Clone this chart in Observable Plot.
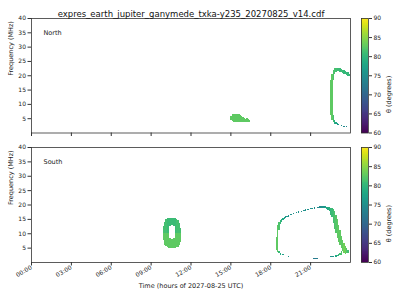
<!DOCTYPE html>
<html>
<head>
<meta charset="utf-8">
<script src="https://cdn.jsdelivr.net/npm/d3@7"></script>
<script src="https://cdn.jsdelivr.net/npm/@observablehq/plot@0.6"></script>
<style>
  body { margin: 0; background: #fff; }
  #wrap { position: relative; width: 400px; height: 300px; overflow: hidden; font-family: "DejaVu Sans", sans-serif; }
  #wrap svg { position: absolute; left: 0; top: 0; }
</style>
</head>
<body>
<div id="wrap"></div>
<script>
// ---------- data ----------
const titleText = "expres_earth_jupiter_ganymede_txka-y235_20270825_v14.cdf";
const xLabel = "Time (hours of 2027-08-25 UTC)";
const yLabel = "Frequency (MHz)";
const cLabel = "θ (degrees)";
const hourTicks = [0, 3, 6, 9, 12, 15, 18, 21];
const freqTicks = [5, 10, 15, 20, 25, 30, 35, 40];
const thetaTicks = [60, 65, 70, 75, 80, 85, 90];
const colWidth = 0.1; // hours per spectrogram column

// [hour, freq low (MHz), freq high (MHz), theta (deg)]
const northSpans = [
  // blob ~15:00
  [15.0, 4.4, 5.8, 82.5], [15.1, 4.0, 6.3, 82.5], [15.2, 3.8, 6.5, 82.5], [15.3, 3.7, 6.6, 82.5],
  [15.4, 3.7, 6.6, 82.5], [15.5, 3.7, 6.5, 82.5], [15.6, 3.7, 6.3, 82.5], [15.7, 3.7, 6.1, 82.5],
  [15.8, 3.8, 5.8, 82.5], [15.9, 3.8, 5.5, 82.5], [16.0, 3.8, 5.1, 82.5], [16.1, 3.6, 4.8, 82.5],
  [16.2, 3.5, 4.9, 82.5], [16.3, 3.6, 4.6, 82.5], [16.4, 3.8, 4.3, 82.5],
  // arc ~22:30-24:00
  [22.5, 6.0, 18.5, 82.5], [22.6, 4.5, 20.5, 82.5],
  [22.7, 3.5, 6.0, 81], [22.7, 18.5, 22.0, 81.5],
  [22.8, 3.0, 4.2, 79], [22.8, 20.5, 22.5, 81.5],
  [22.9, 2.8, 3.6, 77.5], [22.9, 21.2, 22.6, 81],
  [23.0, 2.6, 3.2, 76.5], [23.0, 21.5, 22.6, 80.5],
  [23.1, 2.5, 3.0, 75.5], [23.1, 21.4, 22.5, 80.5],
  [23.2, 21.2, 22.4, 80.5],
  [23.3, 2.2, 2.6, 75], [23.3, 21.0, 22.2, 80.5],
  [23.4, 20.8, 22.0, 80.5],
  [23.5, 2.0, 2.4, 74], [23.5, 20.6, 21.8, 80],
  [23.6, 20.3, 21.6, 80],
  [23.7, 1.9, 2.2, 74], [23.7, 20.0, 21.3, 80],
  [23.8, 19.8, 21.0, 80], [23.9, 19.6, 20.6, 80]
];

const southSpans = [
  // ring ~10:30
  [9.9, 7.5, 10, 82.5], [9.9, 10, 12.5, 81],
  [10.0, 6.0, 10, 82.5], [10.0, 10, 14.0, 81],
  [10.1, 5.4, 10, 82.5], [10.1, 10, 14.8, 81],
  [10.2, 5.1, 10, 82.5], [10.2, 10, 15.2, 80.5],
  [10.3, 5.0, 10, 82.5], [10.3, 10, 15.3, 80.5],
  [10.4, 5.0, 8.5, 82.5], [10.4, 12.5, 15.4, 80.5],
  [10.5, 5.0, 8.0, 82.5], [10.5, 13.0, 15.4, 80.5],
  [10.6, 5.0, 8.0, 82.5], [10.6, 13.0, 15.4, 80.5],
  [10.7, 5.0, 8.5, 82.5], [10.7, 12.5, 15.3, 80.5],
  [10.8, 5.0, 10, 82.5], [10.8, 10, 15.2, 80.5],
  [10.9, 5.1, 10, 82.5], [10.9, 10, 15.0, 81],
  [11.0, 5.3, 10, 82.5], [11.0, 10, 14.5, 81],
  [11.1, 5.8, 10, 82.5], [11.1, 10, 13.5, 81],
  [11.2, 7.0, 10, 82.5], [11.2, 10, 12.0, 81],
  // loop ~18:30-24:00, left side
  [18.4, 4.2, 8.8, 82.5],
  [18.5, 3.6, 13.0, 82.5],
  [18.6, 3.0, 3.8, 80], [18.6, 11.0, 14.0, 81.5],
  [18.7, 2.6, 3.2, 78.5], [18.7, 13.2, 14.6, 80],
  [18.8, 14.0, 15.0, 79],
  [18.9, 2.3, 2.7, 77], [18.9, 14.5, 15.4, 78],
  [19.0, 14.9, 15.7, 77],
  [19.1, 15.2, 15.9, 76],
  [19.2, 15.5, 16.1, 75.5],
  [19.3, 1.9, 2.2, 75.5], [19.3, 15.8, 16.3, 75.5],
  [19.5, 16.2, 16.7, 75],
  [19.7, 16.6, 17.1, 75],
  [19.9, 1.6, 1.9, 75], [19.9, 16.9, 17.4, 75],
  [20.0, 1.6, 1.9, 75],
  [20.1, 17.2, 17.7, 75],
  // top arc
  [20.3, 17.5, 17.9, 75], [20.5, 17.8, 18.2, 75], [20.6, 17.9, 18.3, 75],
  [20.8, 18.1, 18.5, 75], [21.0, 18.3, 18.7, 75], [21.1, 18.4, 18.8, 75],
  [21.3, 18.6, 19.0, 75], [21.5, 18.8, 19.2, 74], [21.6, 18.9, 19.3, 74],
  [21.7, 18.9, 19.4, 74.5], [21.8, 18.9, 19.4, 75], [21.9, 18.9, 19.4, 75.5],
  [22.0, 18.8, 19.4, 76], [22.1, 18.7, 19.4, 77], [22.2, 18.5, 19.3, 78],
  [22.3, 18.2, 19.2, 78.5], [22.4, 17.7, 19.0, 79], [22.5, 16.5, 18.8, 80],
  // bottom dashes
  [21.2, 1.1, 1.5, 72.5], [21.3, 1.1, 1.5, 72.5], [21.4, 1.1, 1.5, 72.5], [21.5, 1.1, 1.5, 72.5],
  [22.5, 1.6, 2.0, 75.5], [22.6, 1.6, 2.0, 75.5], [22.7, 1.7, 2.1, 76.5],
  // right side thick band
  [22.6, 15.5, 18.7, 80.5],
  [22.7, 13.5, 18.3, 81],
  [22.8, 11.5, 17.8, 81.5],
  [22.9, 10.0, 16.5, 82], [22.9, 1.8, 2.3, 78],
  [23.0, 8.5, 15.0, 82.5], [23.0, 2.0, 2.6, 79],
  [23.1, 7.0, 13.0, 82.5], [23.1, 2.2, 2.9, 80],
  [23.2, 5.8, 11.0, 82.5], [23.2, 2.4, 3.3, 81],
  [23.3, 4.8, 9.0, 82.5], [23.3, 2.6, 4.0, 81.5],
  [23.4, 3.8, 7.5, 82.5],
  [23.5, 3.0, 6.5, 83.5],
  [23.6, 2.9, 5.5, 83],
  [23.7, 3.0, 4.8, 82],
  [23.8, 3.3, 4.3, 81]
];

// ---------- drawing ----------
const wrap = document.getElementById("wrap");
const colorScale = {type: "linear", scheme: "viridis", domain: [60, 90]};
const fmtHour = d => String(d).padStart(2, "0") + ":00";
const axisColor = "#333";

function panel(spans, name, top, bottom, showX, withTitle) {
  const rows = spans.map(([t, lo, hi, theta]) => ({t, lo, hi, theta}));
  const marks = [
    Plot.rect(rows, {x1: "t", x2: d => d.t + colWidth, y1: "lo", y2: "hi", fill: "theta", shapeRendering: "crispEdges"}),
    Plot.frame({stroke: axisColor, strokeWidth: 0.8}),
    Plot.axisY({ticks: freqTicks, tickSize: 3.5, tickPadding: 2, label: null, fontSize: 6, stroke: axisColor}),
    Plot.axisX({ticks: hourTicks, tickSize: 3.5, tickPadding: 1, label: null, fontSize: 6,
                tickFormat: showX ? fmtHour : () => "", tickRotate: showX ? -30 : 0, stroke: axisColor}),
    Plot.text([name], {text: d => d, frameAnchor: "top-left", dx: 12, dy: 12, fontSize: 6.5, textAnchor: "start", fill: "#222"}),
    Plot.text([yLabel], {text: d => d, frameAnchor: "left", dx: -21, rotate: -90, fontSize: 6.5, fill: "#222"})
  ];
  if (showX) marks.push(Plot.text([xLabel], {text: d => d, frameAnchor: "bottom", dy: 25, fontSize: 6.5, fill: "#222"}));
  if (withTitle) marks.push(Plot.text([titleText], {text: d => d, frameAnchor: "top", dy: -8, fontSize: 8.5, fill: "#111"}));
  const svg = Plot.plot({
    width: 400, height: 300,
    marginLeft: 31, marginRight: 50, marginTop: top, marginBottom: 300 - bottom,
    x: {domain: [0, 24]},
    y: {domain: [0, 40]},
    color: colorScale,
    style: {background: "transparent", fontFamily: "DejaVu Sans, sans-serif", fontSize: "6px", color: "#222"},
    marks
  });
  wrap.appendChild(svg);
}

function colorbar(top, bottom) {
  const steps = d3.range(60, 90, 0.25).map(v => ({v}));
  const svg = Plot.plot({
    width: 400, height: 300,
    marginLeft: 361, marginRight: 32, marginTop: top, marginBottom: 300 - bottom,
    x: {domain: [0, 1], axis: null},
    y: {domain: [60, 90]},
    color: colorScale,
    style: {background: "transparent", fontFamily: "DejaVu Sans, sans-serif", fontSize: "6px", color: "#222"},
    marks: [
      Plot.rect(steps, {x1: 0, x2: 1, y1: "v", y2: d => d.v + 0.25, fill: "v", shapeRendering: "crispEdges"}),
      Plot.frame({stroke: axisColor, strokeWidth: 0.8}),
      Plot.axisY({anchor: "right", ticks: thetaTicks, tickSize: 3, tickPadding: 2, label: null, fontSize: 6, stroke: axisColor}),
      Plot.text([cLabel], {text: d => d, frameAnchor: "right", dx: 20, rotate: -90, fontSize: 6.5, fill: "#222"})
    ]
  });
  wrap.appendChild(svg);
}

panel(northSpans, "North", 18, 132.5, false, true);
panel(southSpans, "South", 147, 262, true, false);
colorbar(18, 132.5);
colorbar(147, 262);
</script>
</body>
</html>
